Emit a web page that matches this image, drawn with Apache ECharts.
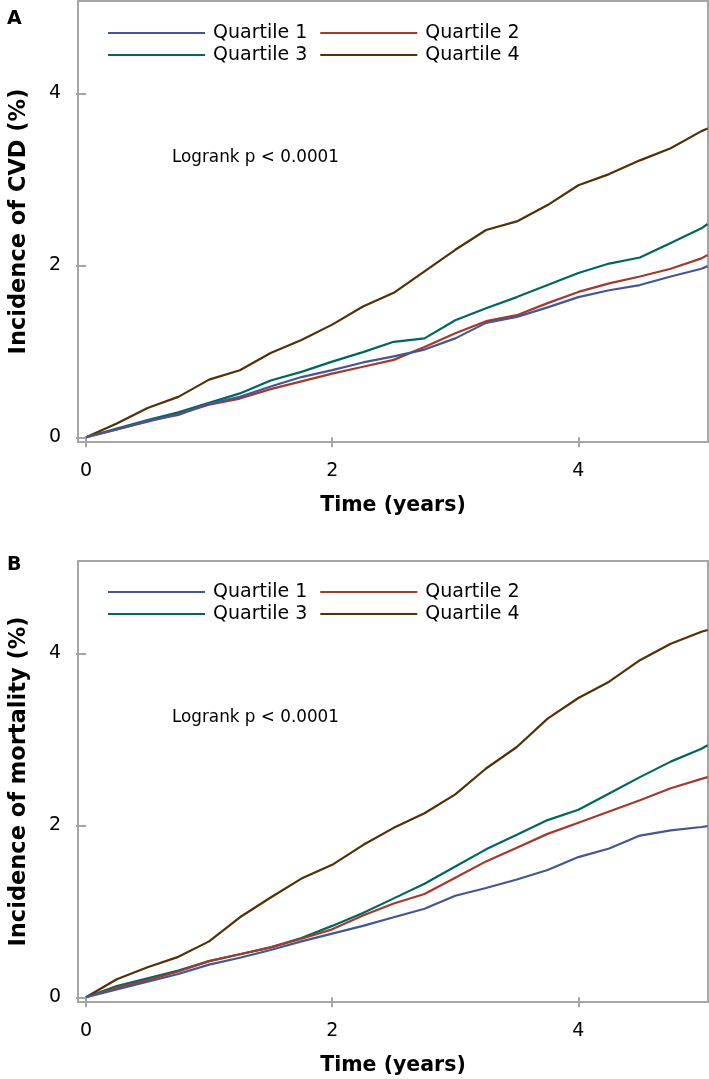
<!DOCTYPE html>
<html>
<head>
<meta charset="utf-8">
<script src="https://cdn.jsdelivr.net/npm/echarts@6/dist/echarts.min.js"></script>
<style>
html,body{margin:0;padding:0;background:#fff;}
#chart{width:709px;height:1079px;}
</style>
</head>
<body>
<div id="chart"></div>
<script>
// Time points (years)
const times = [0, 0.25, 0.5, 0.75, 1, 1.25, 1.5, 1.75, 2, 2.25, 2.5, 2.75, 3, 3.25, 3.5, 3.75, 4, 4.25, 4.5, 4.75, 5, 5.05];
const seriesNames = ['Quartile 1', 'Quartile 2', 'Quartile 3', 'Quartile 4'];
const xTicks = [0, 2, 4];
const yTicks = [0, 2, 4];

// Panel A: Incidence of CVD (%)
const cvdQ1 = [0, 0.09, 0.19, 0.26, 0.39, 0.47, 0.59, 0.70, 0.78, 0.87, 0.94, 1.02, 1.15, 1.33, 1.40, 1.51, 1.63, 1.71, 1.77, 1.87, 1.96, 1.99];
const cvdQ2 = [0, 0.09, 0.18, 0.27, 0.38, 0.45, 0.56, 0.65, 0.74, 0.82, 0.90, 1.05, 1.21, 1.35, 1.42, 1.56, 1.69, 1.79, 1.87, 1.96, 2.08, 2.12];
const cvdQ3 = [0, 0.10, 0.20, 0.29, 0.40, 0.51, 0.66, 0.76, 0.88, 0.99, 1.11, 1.15, 1.36, 1.50, 1.63, 1.77, 1.91, 2.02, 2.09, 2.26, 2.43, 2.48];
const cvdQ4 = [0, 0.16, 0.34, 0.47, 0.67, 0.78, 0.98, 1.13, 1.31, 1.52, 1.68, 1.93, 2.18, 2.41, 2.51, 2.70, 2.93, 3.06, 3.22, 3.36, 3.56, 3.59];

// Panel B: Incidence of mortality (%)
const mortQ1 = [0, 0.09, 0.18, 0.27, 0.38, 0.46, 0.55, 0.65, 0.74, 0.83, 0.93, 1.03, 1.18, 1.27, 1.37, 1.48, 1.63, 1.73, 1.88, 1.94, 1.98, 1.99];
const mortQ2 = [0, 0.11, 0.20, 0.30, 0.42, 0.50, 0.58, 0.68, 0.79, 0.95, 1.09, 1.20, 1.39, 1.58, 1.74, 1.90, 2.03, 2.16, 2.29, 2.43, 2.54, 2.56];
const mortQ3 = [0, 0.13, 0.22, 0.31, 0.42, 0.50, 0.58, 0.69, 0.83, 0.98, 1.15, 1.32, 1.52, 1.72, 1.89, 2.06, 2.18, 2.37, 2.56, 2.74, 2.89, 2.93];
const mortQ4 = [0, 0.21, 0.35, 0.47, 0.65, 0.93, 1.16, 1.38, 1.54, 1.77, 1.97, 2.14, 2.36, 2.66, 2.91, 3.24, 3.48, 3.67, 3.92, 4.11, 4.25, 4.27];

const colors = ['#445694', '#A23A2E', '#01665E', '#543005'];
const FONT = 'DejaVu Sans';

function pairs(ys){ return times.map((t,i)=>[t, ys[i]]); }

const panels = [
  {top: 1, yName: 'Incidence of CVD (%)', data: [cvdQ1, cvdQ2, cvdQ3, cvdQ4], letter: 'A', letterTop: 10, logTop: 149, legTop: [18, 40]},
  {top: 561, yName: 'Incidence of mortality (%)', data: [mortQ1, mortQ2, mortQ3, mortQ4], letter: 'B', letterTop: 556, logTop: 709, legTop: [577, 599]}
];

const grid = [], xAxis = [], yAxis = [], series = [], legend = [], graphic = [];
panels.forEach((p, k) => {
  grid.push({left: 77, top: p.top, width: 631, height: 441, show: true, borderColor: '#a6a6a6', borderWidth: 2, backgroundColor: '#fff'});
  xAxis.push({
    type: 'value', gridIndex: k, min: -0.065, max: 5.053,
    name: 'Time (years)', nameLocation: 'middle', nameGap: 53,
    nameTextStyle: {fontFamily: FONT, fontSize: 20.5, fontWeight: 'bold', color: '#000'},
    axisLine: {show: false},
    axisTick: {show: true, customValues: xTicks, length: 10, lineStyle: {color: '#a6a6a6', width: 2}},
    axisLabel: {customValues: xTicks, fontFamily: FONT, fontSize: 19, color: '#000', margin: 20},
    splitLine: {show: false}
  });
  yAxis.push({
    type: 'value', gridIndex: k, min: -0.055, max: 5.073,
    name: p.yName, nameLocation: 'middle', nameGap: 47, nameRotate: 90,
    nameTextStyle: {fontFamily: FONT, fontSize: 22.5, fontWeight: 'bold', color: '#000'},
    axisLine: {show: false},
    axisTick: {show: true, customValues: yTicks, length: 10, lineStyle: {color: '#a6a6a6', width: 2}},
    axisLabel: {customValues: yTicks, fontFamily: FONT, fontSize: 19, color: '#000', margin: 17},
    splitLine: {show: false}
  });
  p.data.forEach((ys, i) => {
    series.push({
      type: 'line', name: seriesNames[i], xAxisIndex: k, yAxisIndex: k,
      data: pairs(ys), symbol: 'none', showSymbol: false,
      lineStyle: {color: colors[i], width: 2.2}, itemStyle: {color: colors[i]},
      z: 10 - i, animation: false
    });
  });
  [[0,1],[2,3]].forEach((row, r) => {
    legend.push({
      data: row.map(i => seriesNames[i]), left: 103, top: p.legTop[r],
      orient: 'horizontal', itemGap: 13, itemWidth: 97, itemHeight: 2, icon: 'rect',
      selectedMode: false,
      textStyle: {fontFamily: FONT, fontSize: 19, color: '#000', padding: [0,0,0,3], lineHeight: 20}
    });
  });
  graphic.push({type: 'text', left: 7, top: p.letterTop, style: {text: p.letter, font: 'bold 19px "DejaVu Sans"', fill: '#000'}});
  graphic.push({type: 'text', left: 172, top: p.logTop, style: {text: 'Logrank p < 0.0001', font: '16.8px "DejaVu Sans"', fill: '#000'}});
});

const chart = echarts.init(document.getElementById('chart'), null, {renderer: 'canvas'});
chart.setOption({
  animation: false,
  backgroundColor: '#fff',
  color: colors,
  grid, xAxis, yAxis, series, legend, graphic
});
</script>
</body>
</html>
